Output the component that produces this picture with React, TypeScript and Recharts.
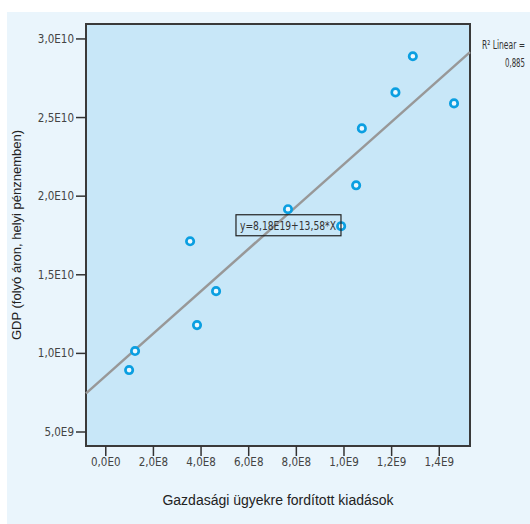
import {
  ScatterChart,
  Scatter,
  XAxis,
  YAxis,
  ReferenceArea,
  ReferenceLine,
  ReferenceDot,
  Label,
} from "recharts";

// spending on economic affairs vs GDP
const spending = [0.98e8, 1.23e8, 3.54e8, 3.83e8, 4.63e8, 7.65e8, 9.88e8, 1.051e9, 1.075e9, 1.216e9, 1.289e9, 1.462e9];
const gdp = [8.94e9, 10.15e9, 17.13e9, 11.8e9, 13.96e9, 19.17e9, 18.09e9, 20.69e9, 24.31e9, 26.6e9, 28.9e9, 25.9e9];

const xTicks = [0, 2e8, 4e8, 6e8, 8e8, 1e9, 1.2e9, 1.4e9];
const xTickLabels = ["0,0E0", "2,0E8", "4,0E8", "6,0E8", "8,0E8", "1,0E9", "1,2E9", "1,4E9"];
const yTicks = [5e9, 1e10, 1.5e10, 2e10, 2.5e10, 3e10];
const yTickLabels = ["5,0E9", "1,0E10", "1,5E10", "2,0E10", "2,5E10", "3,0E10"];

const xDomain = [-8.3e7, 1.529e9];
const yDomain = [4.11e9, 3.095e10];

// fit line ends at the plot edges
const fitX = [-8.3e7, 1.529e9];
const fitY = [7.46e9, 29.16e9];
const equation = "y=8,18E19+13,58*X";
const equationAt = { x: 7.67e8, y: 1.815e10 };
const r2Label = "R² Linear =";
const r2Value = "0,885";

const points = spending.map((x, i) => ({ x, y: gdp[i] }));

const narrow = "'Liberation Sans Narrow', 'Arial Narrow', 'DejaVu Sans Condensed', sans-serif";
const plain = "'Liberation Sans', Arial, sans-serif";

function Ring(props: any) {
  const { cx, cy } = props;
  return <circle cx={cx} cy={cy} r={3.7} fill="#eef8fe" stroke="#0b9fe1" strokeWidth={2.7} />;
}

function EqBox(props: any) {
  const { cx, cy } = props;
  const w = 105;
  const h = 21;
  return (
    <g>
      <rect x={cx - w / 2} y={cy - h / 2} width={w} height={h} fill="none" stroke="#222" strokeWidth={1.2} />
      <text
        x={cx - w / 2 + 4}
        y={cy + 4.5}
        textLength={w - 9}
        lengthAdjust="spacingAndGlyphs"
        fontFamily={narrow}
        fontSize={12.5}
        fill="#333"
      >
        {equation}
      </text>
    </g>
  );
}

const tickStyle = { fontFamily: narrow, fontSize: 11.5, fill: "#444" };

export default function App() {
  return (
    <div style={{ position: "absolute", left: 0, top: 0, width: 530, height: 524, background: "#fff" }}>
      <div style={{ position: "absolute", left: 7, top: 12, width: 523, height: 512, background: "#eaf5fc" }}>
        <ScatterChart width={523} height={512} margin={{ top: 12, right: 60, left: 0, bottom: 0 }}>
          <ReferenceArea
            x1={xDomain[0]}
            x2={xDomain[1]}
            y1={yDomain[0]}
            y2={yDomain[1]}
            fill="#c8e7f8"
            fillOpacity={1}
            stroke="#3a3a3a"
            strokeWidth={2}
            ifOverflow="visible"
          />
          <XAxis
            type="number"
            dataKey="x"
            domain={xDomain}
            ticks={xTicks}
            allowDataOverflow
            height={78}
            axisLine={false}
            tickSize={10}
            tickLine={{ stroke: "#333", strokeWidth: 1.5 }}
            tick={tickStyle}
            tickFormatter={(v: number) => xTickLabels[xTicks.indexOf(v)] ?? ""}
          >
            <Label
              value="Gazdasági ügyekre fordított kiadások"
              position="insideBottom"
              offset={19}
              style={{ fontFamily: plain, fontSize: 14, fill: "#222" }}
            />
          </XAxis>
          <YAxis
            type="number"
            dataKey="y"
            domain={yDomain}
            ticks={yTicks}
            allowDataOverflow
            width={79}
            axisLine={false}
            tickSize={10}
            tickLine={{ stroke: "#333", strokeWidth: 1.5 }}
            tick={tickStyle}
            tickFormatter={(v: number) => yTickLabels[yTicks.indexOf(v)] ?? ""}
          >
            <Label
              value="GDP (folyó áron, helyi pénznemben)"
              angle={-90}
              position="insideLeft"
              offset={9}
              style={{ fontFamily: plain, fontSize: 13, fill: "#222", textAnchor: "middle" }}
            />
          </YAxis>
          <ReferenceLine
            segment={[
              { x: fitX[0], y: fitY[0] },
              { x: fitX[1], y: fitY[1] },
            ]}
            stroke="#989898"
            strokeWidth={2.5}
            ifOverflow="visible"
          />
          <Scatter data={points} shape={<Ring />} isAnimationActive={false} />
          <ReferenceDot x={equationAt.x} y={equationAt.y} shape={<EqBox />} ifOverflow="visible" />
        </ScatterChart>
        <svg style={{ position: "absolute", left: 0, top: 0 }} width={523} height={80}>
          <text
            x={475}
            y={37}
            textLength={43}
            lengthAdjust="spacingAndGlyphs"
            fontFamily={narrow}
            fontSize={12}
            fill="#333"
          >
            {r2Label}
          </text>
          <text
            x={498}
            y={55}
            textLength={20}
            lengthAdjust="spacingAndGlyphs"
            fontFamily={narrow}
            fontSize={12}
            fill="#333"
          >
            {r2Value}
          </text>
        </svg>
      </div>
    </div>
  );
}
